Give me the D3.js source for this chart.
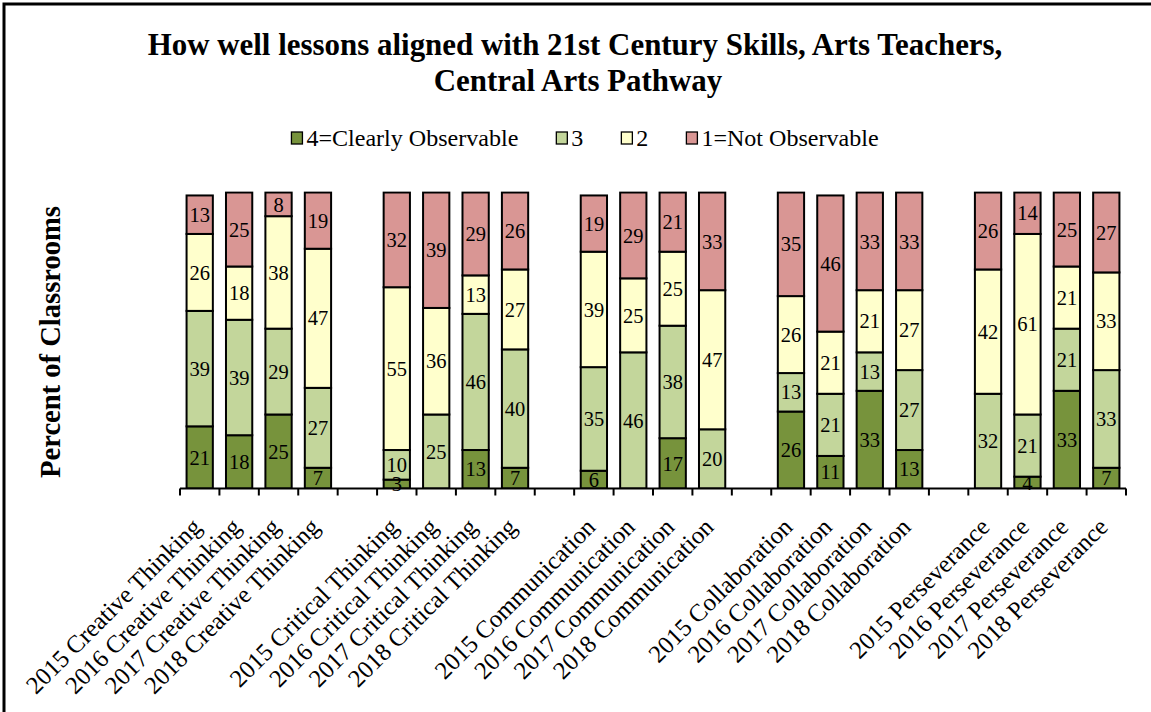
<!DOCTYPE html>
<html>
<head>
<meta charset="utf-8">
<script src="https://cdn.jsdelivr.net/npm/d3@7"></script>
<style>
  html, body { margin: 0; padding: 0; background: #fff; }
  svg { display: block; }
  text { font-family: "Liberation Serif", "Times New Roman", serif; fill: #000; }
</style>
</head>
<body>
<svg id="chart" width="1151" height="712"></svg>
<script>
// ---------- DATA ----------
const titleLines = ["How well lessons aligned with 21st Century Skills, Arts Teachers,", "Central Arts Pathway"];
const yAxisTitle = "Percent of Classrooms";
const seriesNames = ["4=Clearly Observable", "3", "2", "1=Not Observable"];
const seriesColors = ["#77933C", "#C3D69B", "#FFFFCC", "#D99694"];
const skills = ["Creative Thinking", "Critical Thinking", "Communication", "Collaboration", "Perseverance"];
const years = ["2015", "2016", "2017", "2018"];
const categories = [
  "2015 Creative Thinking", "2016 Creative Thinking", "2017 Creative Thinking", "2018 Creative Thinking",
  "2015 Critical Thinking", "2016 Critical Thinking", "2017 Critical Thinking", "2018 Critical Thinking",
  "2015 Communication", "2016 Communication", "2017 Communication", "2018 Communication",
  "2015 Collaboration", "2016 Collaboration", "2017 Collaboration", "2018 Collaboration",
  "2015 Perseverance", "2016 Perseverance", "2017 Perseverance", "2018 Perseverance"
];
const clearlyObservable = [21, 18, 25, 7,   3, 0, 13, 7,   6, 0, 17, 0,    26, 11, 33, 13,  0, 4, 33, 7];
const rating3           = [39, 39, 29, 27,  10, 25, 46, 40, 35, 46, 38, 20, 13, 21, 13, 27,  32, 21, 21, 33];
const rating2           = [26, 18, 38, 47,  55, 36, 13, 27, 39, 25, 25, 47, 26, 21, 21, 27,  42, 61, 21, 33];
const notObservable     = [13, 25, 8, 19,   32, 39, 29, 26, 19, 29, 21, 33, 35, 46, 33, 33,  26, 14, 25, 27];
const seriesValues = [clearlyObservable, rating3, rating2, notObservable];
const yDomain = [0, 100];

// ---------- LAYOUT ----------
const svg = d3.select("#chart");
const plot = { left: 180, right: 1126, top: 192.5, bottom: 488.5 };

// outer frame (left + top visible)
svg.append("rect").attr("x", 4).attr("y", 4).attr("width", 1200).attr("height", 800)
  .attr("fill", "none").attr("stroke", "#000").attr("stroke-width", 3);

function fitFont(sel, target, base) {
  sel.attr("font-size", base);
  const len = sel.node().getComputedTextLength();
  const fs = base * target / len;
  sel.attr("font-size", fs);
  return fs;
}

// title
const t1 = svg.append("text").attr("x", 575).attr("y", 55).attr("text-anchor", "middle")
  .attr("font-weight", "bold").text(titleLines[0]);
const titleFs = fitFont(t1, 855, 26);
svg.append("text").attr("x", 578).attr("y", 91).attr("text-anchor", "middle")
  .attr("font-weight", "bold").attr("font-size", titleFs).text(titleLines[1]);

// legend
const legendY = 138;
const legendG = svg.append("g");
const probe = legendG.append("text").text(seriesNames[0]);
const legendFs = fitFont(probe, 212, 20);
probe.remove();
let lx = 0;
seriesNames.forEach((name, i) => {
  legendG.append("rect").attr("x", lx).attr("y", legendY - 6).attr("width", 11).attr("height", 12)
    .attr("fill", seriesColors[i]).attr("stroke", "#000").attr("stroke-width", 1.3);
  const tx = legendG.append("text").attr("x", lx + 15).attr("y", legendY).attr("dy", "0.35em")
    .attr("font-size", legendFs).text(name);
  lx += 15 + tx.node().getComputedTextLength() + (i < seriesNames.length - 1 ? 38 : 0);
});
legendG.attr("transform", `translate(${585 - lx / 2},0)`);

// slots including a blank slot between groups
const slots = [];
skills.forEach((s, g) => {
  years.forEach((y, k) => slots.push(categories[g * 4 + k]));
  if (g < skills.length - 1) slots.push("gap" + g);
});

const x = d3.scaleBand().domain(slots).range([plot.left, plot.right])
  .paddingInner(1 / 3).paddingOuter(1 / 6);
const y = d3.scaleLinear().domain(yDomain).range([plot.bottom, plot.top]);

// stack
const rows = categories.map((c, i) => {
  const r = { cat: c };
  seriesNames.forEach((s, j) => r[s] = seriesValues[j][i]);
  return r;
});
const stacked = d3.stack().keys(seriesNames)(rows);

svg.append("clipPath").attr("id", "plotclip").append("rect")
  .attr("x", plot.left - 5).attr("y", plot.top - 1.2).attr("width", plot.right - plot.left + 10)
  .attr("height", plot.bottom - plot.top + 1.2);

const barsG = svg.append("g").attr("clip-path", "url(#plotclip)");
stacked.forEach((layer, j) => {
  barsG.selectAll(null).data(layer.filter(d => d[1] - d[0] > 0)).enter().append("rect")
    .attr("x", d => x(d.data.cat))
    .attr("width", x.bandwidth())
    .attr("y", d => y(Math.min(d[1], yDomain[1])))
    .attr("height", d => y(d[0]) - y(Math.min(d[1], yDomain[1])))
    .attr("fill", seriesColors[j])
    .attr("stroke", "#000").attr("stroke-width", 2);
});

// data labels
stacked.forEach((layer, j) => {
  svg.selectAll(null).data(layer.filter(d => d[1] - d[0] > 0)).enter().append("text")
    .attr("x", d => x(d.data.cat) + x.bandwidth() / 2)
    .attr("y", d => y((d[0] + Math.min(d[1], yDomain[1])) / 2))
    .attr("dy", "0.35em").attr("text-anchor", "middle").attr("font-size", 20.5)
    .text(d => d[1] - d[0]);
});

// x axis: line + ticks at slot boundaries
const step = x.step();
const axisG = svg.append("g");
axisG.append("line").attr("x1", plot.left).attr("x2", plot.right)
  .attr("y1", plot.bottom).attr("y2", plot.bottom).attr("stroke", "#000").attr("stroke-width", 2);
axisG.selectAll(null).data(d3.range(slots.length + 1)).enter().append("line")
  .attr("x1", i => plot.left + i * step).attr("x2", i => plot.left + i * step)
  .attr("y1", plot.bottom).attr("y2", plot.bottom + 7).attr("stroke", "#000").attr("stroke-width", 2);

// x labels
const labs = svg.selectAll(null).data(categories).enter().append("text")
  .attr("text-anchor", "end")
  .attr("transform", c => `translate(${x(c) + x.bandwidth() / 2 + 3},${plot.bottom + 40}) rotate(-45)`)
  .text(c => c);
const labFs = fitFont(labs.filter((d, i) => i === 0), 236, 20);
labs.attr("font-size", labFs);

// y axis title
const yt = svg.append("text").attr("text-anchor", "middle").attr("font-weight", "bold")
  .attr("transform", "translate(60,342) rotate(-90)").text(yAxisTitle);
fitFont(yt, 272, 20);
</script>
</body>
</html>
